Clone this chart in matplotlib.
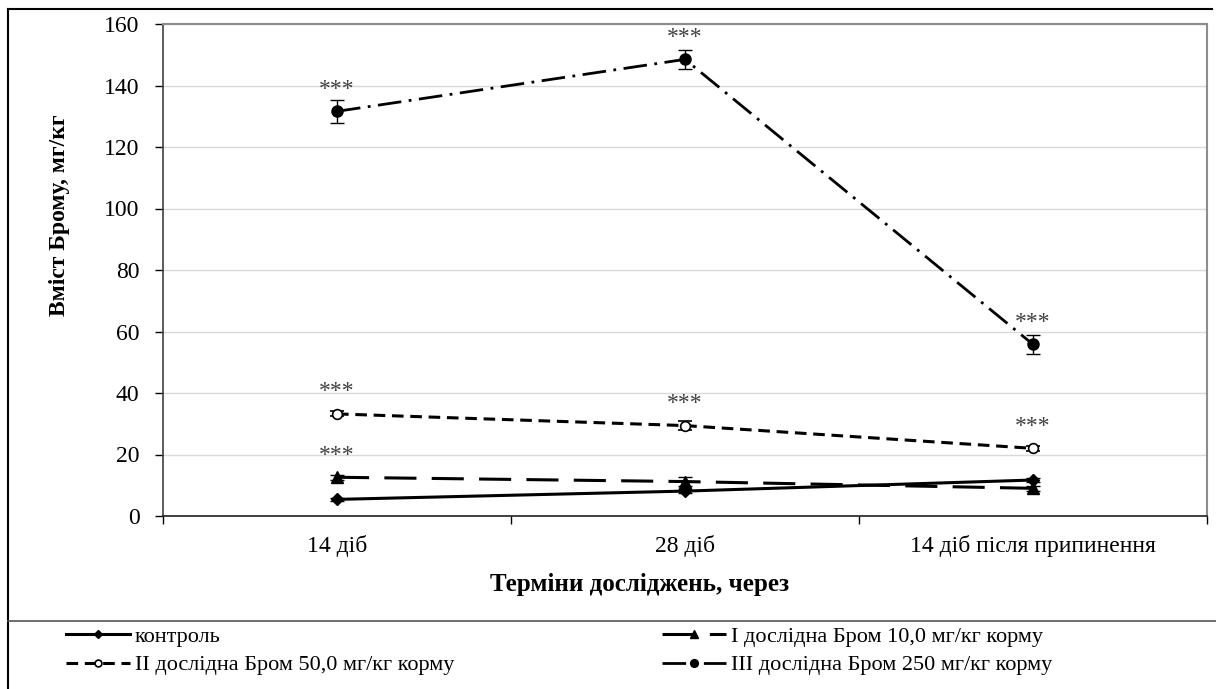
import numpy as np
import matplotlib.pyplot as plt
from matplotlib.lines import Line2D

plt.rcParams['font.family'] = ['Liberation Serif', 'DejaVu Serif']

periods = ['14 діб', '28 діб', '14 діб після припинення']
control = [5.4, 8.1, 11.7]
control_err = [0.6, 0.6, 0.8]
grp1 = [12.6, 11.2, 9.0]
grp1_err = [0.8, 1.5, 0.8]
grp2 = [33.2, 29.4, 22.0]
grp2_err = [0.8, 1.5, 0.8]
grp3 = [131.6, 148.5, 55.8]
grp3_err = [3.8, 3.2, 3.2]
stars = '***'
star_pts = [(0, grp1), (0, grp2), (1, grp2), (2, grp2), (0, grp3), (1, grp3), (2, grp3)]

labels = ['контроль', 'I дослідна Бром 10,0 мг/кг корму',
          'II дослідна Бром 50,0 мг/кг корму', 'III дослідна Бром 250 мг/кг корму']

fig = plt.figure(figsize=(12.16, 6.89), dpi=100)
ax = fig.add_axes([163/1216, 1-516/689, (1207-163)/1216, (516-24)/689])

x = np.arange(3)
err_kw = dict(ecolor='black', elinewidth=1, capsize=5, capthick=1)

styles = [
    dict(lw=2.2, marker='D', ms=6, linestyle='-'),
    dict(lw=2.2, marker='^', ms=8, dashes=(10.5, 5)),
    dict(lw=2.2, marker='o', ms=7, mfc='white', mew=1.2, dashes=(3.8, 2.2)),
    dict(lw=2.0, marker='o', ms=8, dashes=(8.5, 2.7, 1, 2.7)),
]
series = [(control, control_err), (grp1, grp1_err), (grp2, grp2_err), (grp3, grp3_err)]

handles = []
for (vals, err), st, lab in zip(series, styles, labels):
    ax.errorbar(x, vals, yerr=err, color='black', **st, **err_kw)
    handles.append(Line2D([], [], color='black', **st, label=lab))

for i, s in star_pts:
    ax.annotate(stars, (i, s[i]), xytext=(0, 12), textcoords='offset points',
                ha='center', va='baseline', fontsize=17, color='#404040')

ax.set_xlim(-0.5, 2.5)
ax.set_ylim(0, 160)
ax.set_yticks(np.arange(0, 161, 20))
ax.tick_params(axis='y', labelsize=17, direction='out', length=6, width=1, colors='black', pad=11)
ax.set_xticks(x)
ax.set_xticklabels(periods, fontsize=17)
ax.set_xticks([-0.5, 0.5, 1.5, 2.5], minor=True)
ax.tick_params(axis='x', which='major', length=0, pad=14)
ax.tick_params(axis='x', which='minor', length=6, width=1, direction='out')
ax.grid(axis='y', color='#d9d9d9', lw=1)
ax.set_axisbelow(True)
for side in ['top', 'right']:
    ax.spines[side].set_color('#8c8c8c')
    ax.spines[side].set_linewidth(1.5)
ax.spines['left'].set_color('#404040')
ax.spines['bottom'].set_color('#202020')
ax.spines['left'].set_linewidth(1.2)
ax.spines['bottom'].set_linewidth(1.2)

fig.text(60/1216, 1-215/689, 'Вміст Брому, мг/кг', rotation=90, fontsize=17,
         fontweight='bold', ha='center', va='center')
fig.text(640/1216, 1-585/689, 'Терміни досліджень, через', fontsize=18,
         fontweight='bold', ha='center', va='center')

# frame lines
fig.add_artist(Line2D([8/1216, 1212/1216], [1-9/689, 1-9/689], color='black', lw=1.5))
fig.add_artist(Line2D([8/1216, 8/1216], [0, 1-9/689], color='black', lw=1.5))
fig.add_artist(Line2D([8/1216, 1], [1-621/689, 1-621/689], color='#555555', lw=1.2))

leg_kw = dict(frameon=False, fontsize=16, handlelength=2.9, handletextpad=0.2,
              labelspacing=0.35, borderpad=0, borderaxespad=0, loc='center left',
              markerscale=0.7)
leg1 = fig.legend([handles[0], handles[2]], [labels[0], labels[2]],
                  bbox_to_anchor=(66/1216, 1-651/689), **leg_kw)
leg2 = fig.legend([handles[1], handles[3]], [labels[1], labels[3]],
                  bbox_to_anchor=(662/1216, 1-651/689), **leg_kw)

fig.savefig('out.png', dpi=100)
